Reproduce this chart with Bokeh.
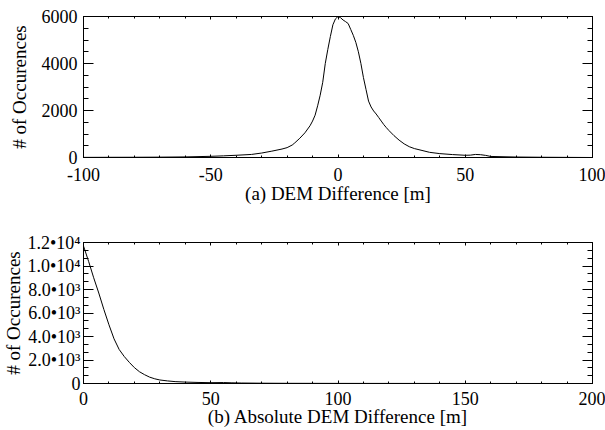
from bokeh.plotting import figure
from bokeh.models import Range1d, LinearAxis, SingleIntervalTicker, FixedTicker
from bokeh.layouts import column
from bokeh.embed import file_html
from bokeh.resources import INLINE

# ---- data ----
diff_x = [-100, -90, -80, -70, -60, -50, -45, -40, -34, -30, -26, -22, -20, -18, -17, -15, -13,
          -11, -10, -9, -8, -7, -6, -5, -4, -3, -2, -1, 0, 1, 2, 3, 4, 5, 6, 7, 8, 9, 10, 11,
          12, 13, 14, 15, 16, 17, 18, 19, 20, 22, 24, 26, 28, 30, 33, 36, 40, 45, 50, 52, 54,
          56, 58, 60, 70, 80, 90, 100]
diff_counts = [5, 8, 10, 15, 25, 50, 70, 95, 130, 190, 270, 360, 420, 530, 620, 820, 1050,
               1350, 1550, 1800, 2200, 2650, 3200, 4000, 4600, 5150, 5650, 5900, 6000, 5950,
               5850, 5780, 5700, 5450, 5200, 4900, 4500, 4000, 3400, 2900, 2400, 2150, 1980,
               1850, 1700, 1550, 1400, 1270, 1150, 930, 740, 580, 460, 380, 300, 220, 165,
               125, 95, 100, 130, 120, 90, 45, 20, 10, 5, 0]

abs_x = [0, 2, 4, 6, 8, 10, 12, 14, 16, 18, 20, 22, 24, 26, 28, 30, 33, 36, 40, 45, 50, 55,
         58, 62, 70, 80, 100, 150, 200]
abs_counts = [11700, 10400, 9000, 7700, 6300, 5000, 3800, 2900, 2300, 1800, 1350, 1000, 750,
              540, 400, 300, 220, 160, 120, 90, 70, 80, 60, 40, 25, 15, 8, 3, 0]

top_x_label = "(a) DEM Difference [m]"
bot_x_label = "(b) Absolute DEM Difference [m]"
y_label = "# of Occurences"
top_xtick_values = [-100, -50, 0, 50, 100]
top_xtick_labels = ["-100", "-50", "0", "50", "100"]
bot_ytick_values = [0, 2000, 4000, 6000, 8000, 10000, 12000]
bot_ytick_labels = ["0", "2.0•10³", "4.0•10³", "6.0•10³", "8.0•10³", "1.0•10⁴", "1.2•10⁴"]

FONT = "Liberation Serif"
FS = "18px"
FS_TITLE = "19px"


def style_axis(ax, major_in, minor_in):
    ax.major_tick_in = major_in
    ax.major_tick_out = 0
    ax.minor_tick_in = minor_in
    ax.minor_tick_out = 0
    ax.axis_line_color = "black"
    ax.major_tick_line_color = "black"
    ax.minor_tick_line_color = "black"
    ax.major_label_text_font = FONT
    ax.major_label_text_font_size = FS
    ax.major_label_text_color = "black"
    ax.axis_label_text_font = FONT
    ax.axis_label_text_font_size = FS_TITLE
    ax.axis_label_text_font_style = "normal"
    ax.axis_label_text_color = "black"


def tick_only_axis(positions, length):
    # an axis that draws only (unlabelled) inward ticks on the opposite frame edge
    ax = LinearAxis(ticker=FixedTicker(ticks=[], minor_ticks=positions))
    ax.axis_line_color = None
    ax.major_tick_in = 0
    ax.major_tick_out = 0
    ax.minor_tick_in = length
    ax.minor_tick_out = 0
    ax.minor_tick_line_color = "black"
    ax.major_label_standoff = 0
    return ax


def make_fig(xr, yr, xint, yint, ymin_n, border_top, border_bottom):
    p = figure(width=605, height=215, x_range=Range1d(*xr), y_range=Range1d(*yr),
               output_backend="svg", toolbar_location=None,
               min_border_left=81, min_border_right=13,
               min_border_top=border_top, min_border_bottom=border_bottom)
    p.xgrid.visible = False
    p.ygrid.visible = False
    p.outline_line_color = "black"
    p.outline_line_width = 1
    p.background_fill_color = "white"
    p.border_fill_color = "white"
    xb = p.below[0]
    yl = p.left[0]
    xb.ticker = SingleIntervalTicker(interval=xint, num_minor_ticks=5)
    yl.ticker = SingleIntervalTicker(interval=yint, num_minor_ticks=ymin_n)
    style_axis(xb, 3, 2)
    style_axis(yl, 10, 5)
    # ticks on the right and top edges (box axes)
    xs = list(range(int(xr[0]), int(xr[1]) + 1, xint))
    xs_minor = list(range(int(xr[0]), int(xr[1]) + 1, xint // 5))
    ys = list(range(int(yr[0]), int(yr[1]) + 1, yint))
    ys_minor = list(range(int(yr[0]), int(yr[1]) + 1, yint // ymin_n))
    p.add_layout(tick_only_axis(ys, 10), "right")
    p.add_layout(tick_only_axis(ys_minor, 5), "right")
    p.add_layout(tick_only_axis(xs, 3), "above")
    p.add_layout(tick_only_axis(xs_minor, 2), "above")
    return p, xb, yl


p1, x1, y1 = make_fig((-100, 100), (0, 6000), 50, 2000, 4, 16, 58)
p1.line(diff_x, diff_counts, line_color="black", line_width=1)
x1.axis_label = top_x_label
y1.axis_label = y_label
x1.major_label_overrides = {v: s for v, s in zip(top_xtick_values, top_xtick_labels)}
x1.major_label_standoff = 10
x1.axis_label_standoff = -1
y1.major_label_standoff = 6
y1.axis_label_standoff = 9

p2, x2, y2 = make_fig((0, 200), (0, 12000), 50, 2000, 3, 27, 47)
p2.line(abs_x, abs_counts, line_color="black", line_width=1)
x2.axis_label = bot_x_label
y2.axis_label = y_label
y2.major_label_overrides = {v: s for v, s in zip(bot_ytick_values, bot_ytick_labels)}
x2.major_label_standoff = 8
x2.axis_label_standoff = -2
y2.major_label_standoff = 3
y2.axis_label_standoff = 0

layout = column(p1, p2, spacing=0)
open("out.html", "w").write(file_html(layout, INLINE))
